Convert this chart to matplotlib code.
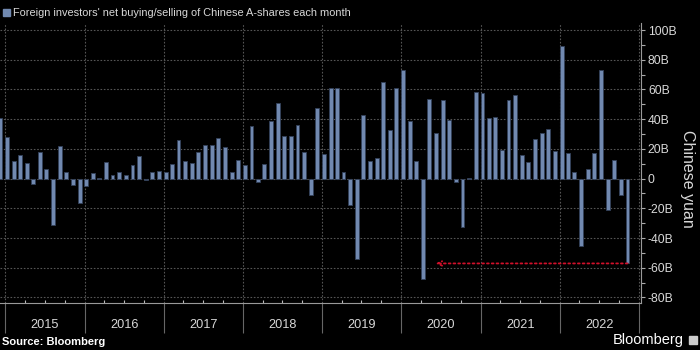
import datetime
import pandas as pd
import matplotlib
matplotlib.use("Agg")
import matplotlib.pyplot as plt
import matplotlib.dates as mdates
from matplotlib.ticker import MultipleLocator, FuncFormatter
from matplotlib.patches import Rectangle

plt.rcParams["font.family"] = ["Liberation Sans", "DejaVu Sans"]

# ======================== data: northbound net flow, billion yuan, Nov 2014 - Oct 2022
net_flow = [
    40.5, 28.2,                                                               # 2014 Nov-Dec
    11.6, 15.8, 10.4, -3.5, 17.6, 6.2, -31.5, 21.9, 4.2, -4.2, -16.3, -4.8,   # 2015
    3.7, 0.3, 11.1, 2.4, 4.2, 2.4, 8.9, 15.2, -1.0, 4.2, 5.0, 4.2,            # 2016
    9.8, 25.9, 11.6, 10.4, 17.8, 22.3, 22.3, 27.3, 21.2, 4.4, 12.5, 8.9,      # 2017
    35.4, -2.2, 9.8, 38.9, 50.8, 28.6, 28.6, 35.8, 17.8, -10.7, 47.3, 16.3,   # 2018
    60.9, 60.9, 4.2, -17.6, -53.8, 42.8, 12.2, 13.6, 65.0, 32.4, 60.9, 73.1,  # 2019
    38.7, 11.8, -67.9, 53.5, 30.4, 52.9, 39.6, -2.2, -32.4, 0.3, 58.2, 57.4,  # 2020
    40.5, 41.4, 19.0, 52.9, 56.0, 15.6, 11.1, 27.0, 30.6, 33.3, 18.5, 89.2,   # 2021
    17.0, 4.2, -45.2, 6.4, 17.0, 73.1, -20.8, 12.5, -10.9, -57.1,             # 2022 Jan-Oct
]
# bars are dated at month end
months = pd.date_range("2014-11-01", periods=len(net_flow), freq="MS") + pd.offsets.MonthEnd(0)
years = list(range(2015, 2023))

title = "Foreign investors' net buying/selling of Chinese A-shares each month"

BAR = "#7189b0"
EDGE = "#33415a"
GRID = "#555555"
TXT = "#d8d8d8"

# ======================== figure
fig = plt.figure(figsize=(7, 3.5), dpi=100, facecolor="black")
ax = fig.add_axes([0.0, 0.134, 0.9157, 0.80])
ax.set_facecolor("black")

ax.bar(months, net_flow, width=18, align="edge", color=BAR, edgecolor=EDGE, linewidth=0.6, zorder=3)

ax.set_xlim(datetime.date(2014, 12, 7), datetime.date(2023, 1, 10))
ax.set_ylim(-83.8, 104.7)

# y axis on the right
ax.yaxis.tick_right()
ax.yaxis.set_major_locator(MultipleLocator(20))
ax.yaxis.set_minor_locator(MultipleLocator(10))
ax.yaxis.set_major_formatter(FuncFormatter(lambda v, p: "0" if abs(v) < 1e-9 else "%dB" % v))
ax.tick_params(axis="y", which="both", direction="out", length=3, width=0.8,
               color="#aaaaaa", labelcolor=TXT, labelsize=8.8, pad=2)

# x axis: year separators below, quarter ticks above
ax.xaxis.set_major_locator(mdates.YearLocator())
ax.xaxis.set_minor_locator(mdates.MonthLocator(bymonth=[4, 7, 10]))
ax.xaxis.set_major_formatter(plt.NullFormatter())
ax.tick_params(axis="x", which="major", direction="out", length=21.6, width=0.8, color="#666666")
ax.tick_params(axis="x", which="minor", direction="in", length=2.5, width=0.8, color="#bbbbbb")

for y in years:
    ax.text(mdates.date2num(datetime.date(y, 7, 2)), -0.08, str(y), transform=ax.get_xaxis_transform(),
            ha="center", va="center", color=TXT, fontsize=9.2)

ax.grid(True, which="major", color=GRID, linestyle=(0, (1.5, 1.5)), linewidth=0.8, zorder=0)
ax.set_axisbelow(True)

for s in ["top", "left"]:
    ax.spines[s].set_visible(False)
ax.spines["bottom"].set_color("#999999")
ax.spines["right"].set_color("#999999")

# red dotted arrow from the latest month back to March 2020
last_x = mdates.date2num(months[-1]) + 9
ax.annotate("", xy=(mdates.date2num(datetime.date(2020, 6, 7)), net_flow[-1]),
            xytext=(last_x, net_flow[-1]),
            arrowprops=dict(arrowstyle="->", color="#d0102a", linestyle=":", lw=1.3,
                            shrinkA=0, shrinkB=0, mutation_scale=8), zorder=4)

# titles and footer
fig.patches.append(Rectangle((3 / 700, 1 - 16 / 350), 7 / 700, 7 / 350,
                             transform=fig.transFigure, color=BAR))
fig.text(13 / 700, 1 - 12.5 / 350, title, color=TXT, fontsize=7.9, va="center", ha="left")
fig.text(688 / 700, 1 - 178.5 / 350, "Chinese yuan", color=TXT, fontsize=11.5,
         rotation=270, va="center", ha="center")
fig.text(2 / 700, 1 - 342 / 350, "Source: Bloomberg", color="white", fontsize=8,
         fontweight="bold", va="center", ha="left")
fig.text(684 / 700, 1 - 340 / 350, "Bloomberg", color="white", fontsize=10.5, va="center", ha="right")
fig.patches.append(Rectangle((689 / 700, 1 - 344 / 350), 8 / 700, 8 / 350,
                             transform=fig.transFigure, color="#cccccc"))

fig.savefig("out.png", dpi=100, facecolor="black")
